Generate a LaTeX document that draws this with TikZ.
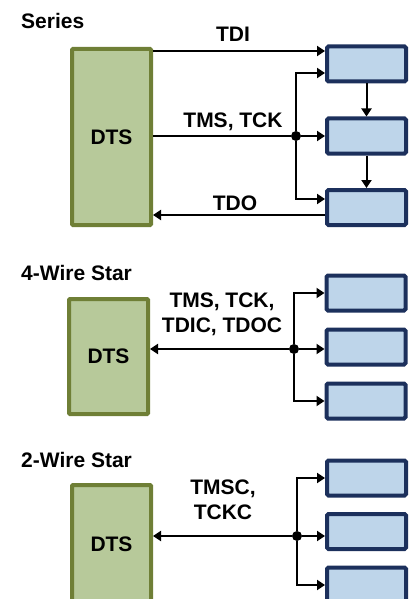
\documentclass[tikz,border=0pt]{standalone}
\usepackage{fontspec}
\setmainfont{Liberation Sans}
\usetikzlibrary{arrows.meta,positioning,calc}
\definecolor{dtsfill}{HTML}{B7C99A}
\definecolor{dtsline}{HTML}{6F7F36}
\definecolor{tapfill}{HTML}{BED5EA}
\definecolor{tapline}{HTML}{1C305C}

\begin{document}
\begin{tikzpicture}[x=1pt, y=-1pt,
    every node/.style={font=\fontsize{21}{25}\selectfont\bfseries},
    dts/.style={draw=dtsline, fill=dtsfill, line width=4pt,
                rounded corners=1pt, minimum width=79pt, inner sep=0pt},
    tap/.style={draw=tapline, fill=tapfill, line width=4pt,
                rounded corners=1.5pt, minimum width=79pt,
                minimum height=35pt, inner sep=0pt},
    arr/.style={-{Triangle[length=8pt,width=10pt]}, line width=2pt},
    rarr/.style={{Triangle[length=8pt,width=10pt]}-, line width=2pt},
    wire/.style={line width=2pt},
    dot/.style={circle, fill=black, minimum size=10pt, inner sep=0pt},
    sig/.style={inner sep=0pt, align=center},
    title/.style={anchor=base west, inner sep=0pt}
  ]
  \useasboundingbox (0,0) rectangle (413,599);
  \clip (0,0) rectangle (413,599);

  %% --- Series ---
  \node[title] (tS) at (21,29) {Series};
  \node[dts, minimum height=176pt] (dS) at (111.5,137) {DTS};
  \node[tap] (s1) at (366.5,64)    {};
  \node[tap] (s2) at (366.5,136)   {};
  \node[tap] (s3) at (366.5,207.5) {};
  \node[dot] (jS) at (296,136) {};
  % TDI in, TDO back
  \coordinate (tdiS) at ([yshift=-4pt]dS.north east);
  \coordinate (tdoS) at ([yshift=-7.5pt]s3.west);
  \draw[arr] (tdiS) -- (tdiS -| s1.west);
  \draw[arr] (tdoS) -- (tdoS -| dS.east);
  % TMS/TCK fan-out
  \draw[wire] (dS.east |- jS) -- (jS);
  \draw[arr] (jS) -- (s2.west);
  \draw[arr] (jS) |- ([yshift=-9pt]s1.west);
  \draw[arr] (jS) |- ([yshift=8.5pt]s3.west);
  % daisy chain
  \draw[arr] (s1) -- (s2);
  \draw[arr] (s2) -- (s3);
  \node[sig, anchor=base] (lTDI) at (233,42)  {TDI};
  \node[sig, anchor=base] (lTMS) at (233,128) {TMS, TCK};
  \node[sig, anchor=base] (lTDO) at (235,210) {TDO};

  %% --- 4-wire star ---
  \node[title] (tF) at (21,280) {4-Wire Star};
  \node[dts, minimum height=115pt] (dF) at (108.5,356.5) {DTS};
  \node[tap] (f1) at (366,293) {};
  \node[tap] (f2) at (366,347) {};
  \node[tap] (f3) at (366,401) {};
  \node[dot] (jF) at (294,349) {};
  \draw[rarr] (dF.east |- jF) -- (jF);
  \draw[arr] (jF) -- (jF -| f2.west);
  \draw[arr] (jF) |- (f1.west);
  \draw[arr] (jF) |- (f3.west);
  \node[sig] (lF) at (222,314) {TMS, TCK,\\TDIC, TDOC};

  %% --- 2-wire star ---
  \node[title] (tT) at (21,467) {2-Wire Star};
  \node[dts, minimum height=118pt] (dT) at (111.5,544) {DTS};
  \node[tap] (t1) at (366.5,478)   {};
  \node[tap] (t2) at (366.5,531.5) {};
  \node[tap] (t3) at (366.5,585)   {};
  \node[dot] (jT) at (297,536) {};
  \draw[rarr] (dT.east |- jT) -- (jT);
  \draw[arr] (jT) -- (jT -| t2.west);
  \draw[arr] (jT) |- (t1.west);
  \draw[arr] (jT) |- (t3.west);
  \node[sig] (lT) at (223,500) {TMSC,\\TCKC};
\end{tikzpicture}
\end{document}
